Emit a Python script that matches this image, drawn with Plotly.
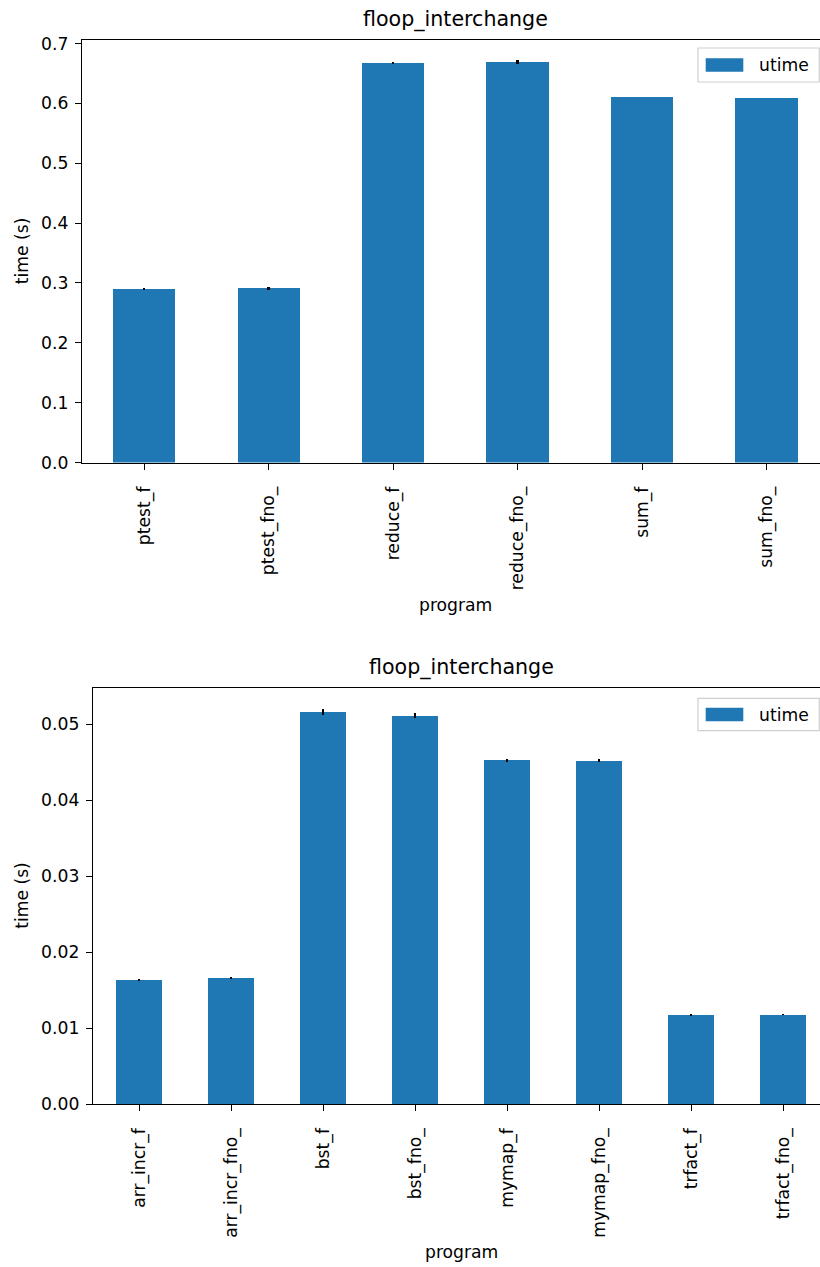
import plotly.graph_objects as go

W, H = 820, 1267

# ---- data ----
programs_top = ["ptest_f", "ptest_fno_", "reduce_f", "reduce_fno_", "sum_f", "sum_fno_"]
utime_top = [0.2900, 0.2915, 0.6675, 0.6695, 0.6105, 0.6090]
utime_top_err = [0.0015, 0.0025, 0.0010, 0.0030, 0.0005, 0.0005]

programs_bot = ["arr_incr_f", "arr_incr_fno_", "bst_f", "bst_fno_",
                "mymap_f", "mymap_fno_", "trfact_f", "trfact_fno_"]
utime_bot = [0.01632, 0.01656, 0.05160, 0.05110, 0.04525, 0.04520, 0.01175, 0.01175]
utime_bot_err = [0.00010, 0.00010, 0.00040, 0.00030, 0.00020, 0.00015, 0.00015, 0.00010]

title_text = "floop_interchange"
series_name = "utime"

BLUE = "#1f77b4"
FONT = "DejaVu Sans, Verdana, sans-serif"
TICK_PX = 17.2
TITLE_PX = 20.6


def px_x(p):
    return p / W


def px_y(p):
    return 1 - p / H


fig = go.Figure()

fig.add_trace(go.Bar(
    x=programs_top, y=utime_top, width=0.5, marker=dict(color=BLUE, line=dict(width=0)),
    error_y=dict(type="data", array=utime_top_err, color="black", thickness=2.4, width=0),
    name=series_name, showlegend=False, xaxis="x", yaxis="y",
))
fig.add_trace(go.Bar(
    x=programs_bot, y=utime_bot, width=0.5, marker=dict(color=BLUE, line=dict(width=0)),
    error_y=dict(type="data", array=utime_bot_err, color="black", thickness=2.4, width=0),
    name=series_name, showlegend=False, xaxis="x2", yaxis="y2",
))

axis_common = dict(
    showline=True, linecolor="black", linewidth=1.4,
    ticks="outside", ticklen=6, tickwidth=1.4, tickcolor="black",
    showgrid=False, zeroline=False, automargin=False,
    tickfont=dict(family=FONT, size=TICK_PX, color="black"),
)

# axes pixel frames (the right edge runs past the page edge)
top_left, top_top, top_bottom = 82, 40, 462.5
bot_left, bot_top, bot_bottom = 93, 687.7, 1104

fig.update_layout(
    width=W, height=H, margin=dict(l=0, r=0, t=0, b=0, autoexpand=False),
    paper_bgcolor="white", plot_bgcolor="white",
    showlegend=False, bargap=0,
    xaxis=dict(axis_common, domain=[px_x(top_left), 1], anchor="y",
               type="category", range=[-0.5, 5.43], tickangle=-90, mirror=True,
               ticklabelstandoff=10),
    yaxis=dict(axis_common, domain=[px_y(top_bottom), px_y(top_top)], anchor="x",
               range=[0, 0.7058], tickvals=[0, 0.1, 0.2, 0.3, 0.4, 0.5, 0.6, 0.7],
               tickformat=".1f", ticklabelstandoff=3),
    xaxis2=dict(axis_common, domain=[px_x(bot_left), 1], anchor="y2",
                type="category", range=[-0.5, 7.4], tickangle=-90, mirror=True,
                ticklabelstandoff=10),
    yaxis2=dict(axis_common, domain=[px_y(bot_bottom), px_y(bot_top)], anchor="x2",
                range=[0, 0.05478], tickvals=[0, 0.01, 0.02, 0.03, 0.04, 0.05],
                tickformat=".2f", ticklabelstandoff=3),
)

annotations = []
shapes = []


def add_text(x, y, text, size, angle=0, xanchor="center"):
    annotations.append(dict(
        x=px_x(x), y=px_y(y), xref="paper", yref="paper", text=text, showarrow=False,
        xanchor=xanchor, yanchor="middle", textangle=angle,
        font=dict(family=FONT, size=size, color="black"),
    ))


def add_legend(box_top, box_bottom):
    shapes.append(dict(type="rect", xref="paper", yref="paper",
                       x0=px_x(698), x1=px_x(819.3), y0=px_y(box_bottom), y1=px_y(box_top),
                       line=dict(color="#d0d0d0", width=1.2), fillcolor="rgba(255,255,255,0.8)"))
    mid = (box_top + box_bottom) / 2
    shapes.append(dict(type="rect", xref="paper", yref="paper",
                       x0=px_x(705.7), x1=px_x(743.3), y0=px_y(mid + 6.7), y1=px_y(mid - 6.7),
                       line=dict(width=0), fillcolor=BLUE))
    add_text(757, mid, series_name, TICK_PX, xanchor="left")


# titles and axis labels
add_text(455, 19.5, title_text, TITLE_PX)
add_text(22, (top_top + top_bottom) / 2, "time (s)", TICK_PX, angle=-90)
add_text(455, 605, "program", TICK_PX)
add_legend(48, 82)

add_text(462, 667, title_text, TITLE_PX)
add_text(22, (bot_top + bot_bottom) / 2, "time (s)", TICK_PX, angle=-90)
add_text(462, 1252, "program", TICK_PX)
add_legend(698.3, 730.7)

fig.update_layout(annotations=annotations, shapes=shapes)

fig.write_html("out.html")
